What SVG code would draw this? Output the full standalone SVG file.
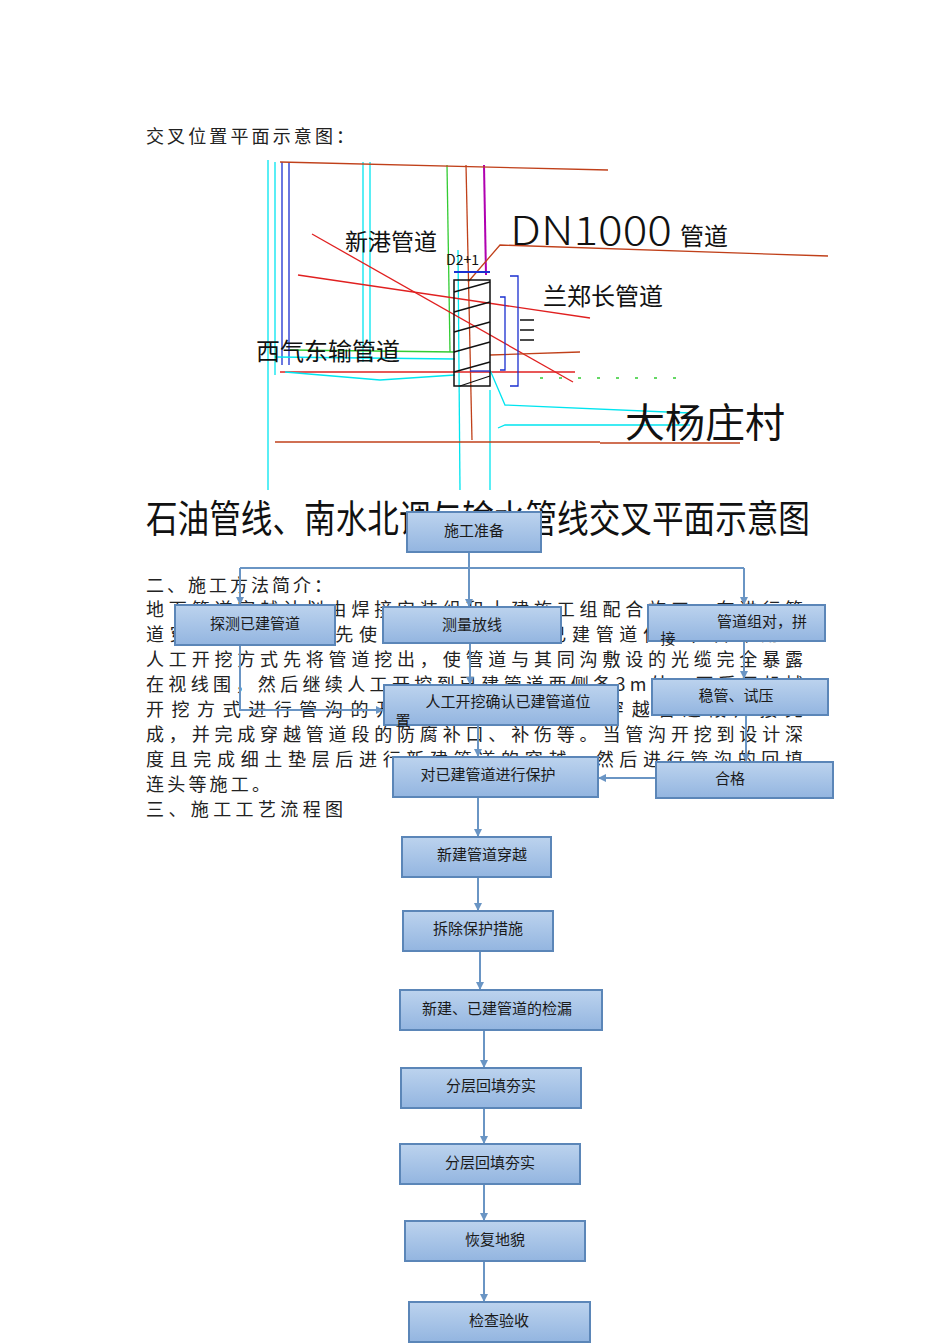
<svg xmlns="http://www.w3.org/2000/svg" width="950" height="1344" viewBox="0 0 950 1344">
<style>
.t{font-family:"Noto Sans CJK SC","Liberation Serif",serif;font-size:18px;fill:#222}
.n{fill:url(#g);stroke:#5b86b8;stroke-width:2}
.nt{font-family:"Noto Sans CJK SC",sans-serif;font-size:15px;fill:#1a1a1a;text-anchor:middle}
.c{stroke:#6a95c4;stroke-width:2;fill:none;marker-end:url(#a)}
.cl{stroke:#6a95c4;stroke-width:2;fill:none}
.dl{font-family:"Noto Sans CJK SC",sans-serif;fill:#111}
</style>
<defs>
<linearGradient id="g" x1="0" y1="0" x2="0" y2="1"><stop offset="0" stop-color="#bcd3ee"/><stop offset="1" stop-color="#93b5e0"/></linearGradient>
<marker id="a" markerWidth="8" markerHeight="8" refX="7" refY="4" orient="auto" markerUnits="userSpaceOnUse"><path d="M0,0 L8,4 L0,8 z" fill="#6a95c4"/></marker>
</defs>
<rect width="950" height="1344" fill="#fff"/>
<text class="t" x="146" y="143" textLength="208">交叉位置平面示意图：</text>
<g id="drawing" fill="none" stroke-width="1.3">
<line x1="268" y1="160" x2="268" y2="490" stroke="#00e5f0"/>
<line x1="275" y1="162" x2="275" y2="375" stroke="#00e5f0"/>
<line x1="282" y1="162" x2="282" y2="365" stroke="#1a2fd0"/>
<line x1="289" y1="162" x2="289" y2="365" stroke="#1a2fd0"/>
<line x1="363" y1="162" x2="363" y2="362" stroke="#00e5f0"/>
<line x1="370" y1="162" x2="370" y2="362" stroke="#00e5f0"/>
<line x1="447" y1="165" x2="450" y2="352" stroke="#33cc33"/>
<line x1="458" y1="250" x2="460" y2="490" stroke="#00e5f0"/>
<line x1="466" y1="165" x2="472" y2="440" stroke="#c0401a"/>
<line x1="484" y1="165" x2="486" y2="275" stroke="#b000b0" stroke-width="2"/>
<line x1="490" y1="390" x2="490" y2="490" stroke="#00e5f0"/>
<line x1="280" y1="162" x2="608" y2="170" stroke="#c0401a"/>
<polyline points="468,282 500,245 828,256" stroke="#c0401a"/>
<line x1="312" y1="234" x2="573" y2="382" stroke="#e02020"/>
<line x1="298" y1="275" x2="590" y2="318" stroke="#e02020"/>
<line x1="290" y1="350" x2="455" y2="352" stroke="#33cc33"/>
<line x1="275" y1="357" x2="455" y2="359" stroke="#00e5f0"/>
<line x1="280" y1="372" x2="575" y2="372" stroke="#e02020"/>
<polyline points="285,372 380,380 455,375" stroke="#00e5f0"/>
<polyline points="490,355 580,352" stroke="#c0401a"/>
<polyline points="490,370 505,405 690,413" stroke="#00e5f0"/>
<polyline points="498,428 505,425 690,425" stroke="#00e5f0"/>
<line x1="275" y1="442" x2="600" y2="442" stroke="#c0401a"/>
<line x1="600" y1="443" x2="740" y2="443" stroke="#c0401a"/>
<rect x="454" y="280" width="36" height="106" stroke="#111" stroke-width="1.5"/>
<path d="M454,292 L490,282 M454,312 L490,302 M454,332 L490,322 M454,352 L490,342 M454,372 L490,362 M460,386 L490,376" stroke="#111"/>
<line x1="454" y1="272" x2="490" y2="272" stroke="#1a2fd0" stroke-width="2"/>
<polyline points="510,276 518,276 518,386 510,386" stroke="#1a2fd0"/>
<polyline points="500,297 505,297 505,370 500,370" stroke="#1a2fd0"/>
<line x1="470" y1="371" x2="490" y2="371" stroke="#1a2fd0"/>
<path d="M520,320 h14 M520,330 h14 M520,340 h14" stroke="#111"/>
<path d="M540,378 h140" stroke="#33cc33" stroke-dasharray="3,16"/>
<text class="dl" x="345" y="250" font-size="23">新港管道</text>
<text class="dl" x="510" y="245" font-size="40" font-family="Liberation Sans,sans-serif" font-weight="300" textLength="162" lengthAdjust="spacingAndGlyphs">DN1000</text>
<text class="dl" x="680" y="245" font-size="24">管道</text>
<text class="dl" x="446" y="265" font-size="14" font-family="Liberation Serif,serif">D2+1</text>
<text class="dl" x="543" y="305" font-size="24">兰郑长管道</text>
<text class="dl" x="256" y="360" font-size="24">西气东输管道</text>
<text class="dl" x="625" y="437" font-size="40">大杨庄村</text>
</g>
<text class="dl" x="146" y="532" font-size="38" textLength="664" lengthAdjust="spacingAndGlyphs">石油管线、南水北调与输水管线交叉平面示意图</text>
<g class="t">
<text x="146" y="592" textLength="186">二、施工方法简介：</text>
<text x="146" y="616" textLength="657">地下管道穿越计划由焊接安装组和土建施工组配合施工，在进行管</text>
<text x="146" y="641" textLength="657">道穿越施工前，首先使用探测仪器确定已建管道位置，并采用人</text>
<text x="146" y="666" textLength="657">人工开挖方式先将管道挖出，使管道与其同沟敷设的光缆完全暴露</text>
<text x="146" y="691" textLength="657">在视线围，然后继续人工开挖到已建管道两侧各3m处，再采用机械</text>
<text x="146" y="716" textLength="657">开挖方式进行管沟的开挖，同时新建管道穿越管道段焊接完</text>
<text x="146" y="741" textLength="657">成，并完成穿越管道段的防腐补口、补伤等。当管沟开挖到设计深</text>
<text x="146" y="766" textLength="657">度且完成细土垫层后进行新建管道的穿越，然后进行管沟的回填</text>
<text x="146" y="791" textLength="124">连头等施工。</text>
<text x="146" y="816" textLength="197">三、施工工艺流程图</text>
</g>
<g id="connectors">
<polyline class="cl" points="469,552 469,568"/>
<line class="cl" x1="240" y1="568" x2="744" y2="568"/>
<line class="c" x1="240" y1="568" x2="240" y2="604"/>
<line class="c" x1="469" y1="552" x2="469" y2="606"/>
<line class="c" x1="744" y1="568" x2="744" y2="604"/>
<polyline class="c" points="240,645 240,710 383,710"/>
<line class="c" x1="470" y1="643" x2="470" y2="684"/>
<line class="c" x1="744" y1="641" x2="744" y2="678"/>
<line class="c" x1="746" y1="715" x2="746" y2="761"/>
<line class="c" x1="656" y1="778" x2="599" y2="778"/>
<line class="c" x1="478" y1="725" x2="478" y2="756"/>
<line class="c" x1="478" y1="797" x2="478" y2="836"/>
<line class="c" x1="478" y1="877" x2="478" y2="910"/>
<line class="c" x1="480" y1="951" x2="480" y2="989"/>
<line class="c" x1="484" y1="1030" x2="484" y2="1067"/>
<line class="c" x1="484" y1="1108" x2="484" y2="1143"/>
<line class="c" x1="484" y1="1184" x2="484" y2="1220"/>
<line class="c" x1="484" y1="1261" x2="484" y2="1301"/>
</g>
<g id="n1"><rect class="n" x="407" y="512" width="134" height="40"/><text class="nt" x="474" y="536">施工准备</text></g>
<g id="n2"><rect class="n" x="175" y="605" width="160" height="40"/><text class="nt" x="255" y="629">探测已建管道</text></g>
<g id="n3"><rect class="n" x="383" y="607" width="178" height="36"/><text class="nt" x="472" y="630">测量放线</text></g>
<g id="n4"><rect class="n" x="648" y="605" width="177" height="36"/><text class="nt" x="762" y="627">管道组对，拼</text><text class="nt" x="668" y="644">接</text></g>
<g id="n5"><rect class="n" x="384" y="685" width="234" height="40"/><text class="nt" x="508" y="707">人工开挖确认已建管道位</text><text class="nt" x="403" y="726">置</text></g>
<g id="n6"><rect class="n" x="652" y="679" width="176" height="36"/><text class="nt" x="736" y="701">稳管、试压</text></g>
<g id="n7"><rect class="n" x="393" y="757" width="205" height="40"/><text class="nt" x="488" y="780">对已建管道进行保护</text></g>
<g id="n8"><rect class="n" x="656" y="762" width="177" height="36"/><text class="nt" x="730" y="784">合格</text></g>
<g id="n9"><rect class="n" x="402" y="837" width="149" height="40"/><text class="nt" x="482" y="860">新建管道穿越</text></g>
<g id="n10"><rect class="n" x="403" y="911" width="150" height="40"/><text class="nt" x="478" y="934">拆除保护措施</text></g>
<g id="n11"><rect class="n" x="400" y="990" width="202" height="40"/><text class="nt" x="497" y="1014">新建、已建管道的检漏</text></g>
<g id="n12"><rect class="n" x="401" y="1068" width="180" height="40"/><text class="nt" x="491" y="1091">分层回填夯实</text></g>
<g id="n13"><rect class="n" x="400" y="1144" width="180" height="40"/><text class="nt" x="490" y="1168">分层回填夯实</text></g>
<g id="n14"><rect class="n" x="405" y="1221" width="180" height="40"/><text class="nt" x="495" y="1245">恢复地貌</text></g>
<g id="n15"><rect class="n" x="409" y="1302" width="181" height="40"/><text class="nt" x="499" y="1326">检查验收</text></g>
</svg>
